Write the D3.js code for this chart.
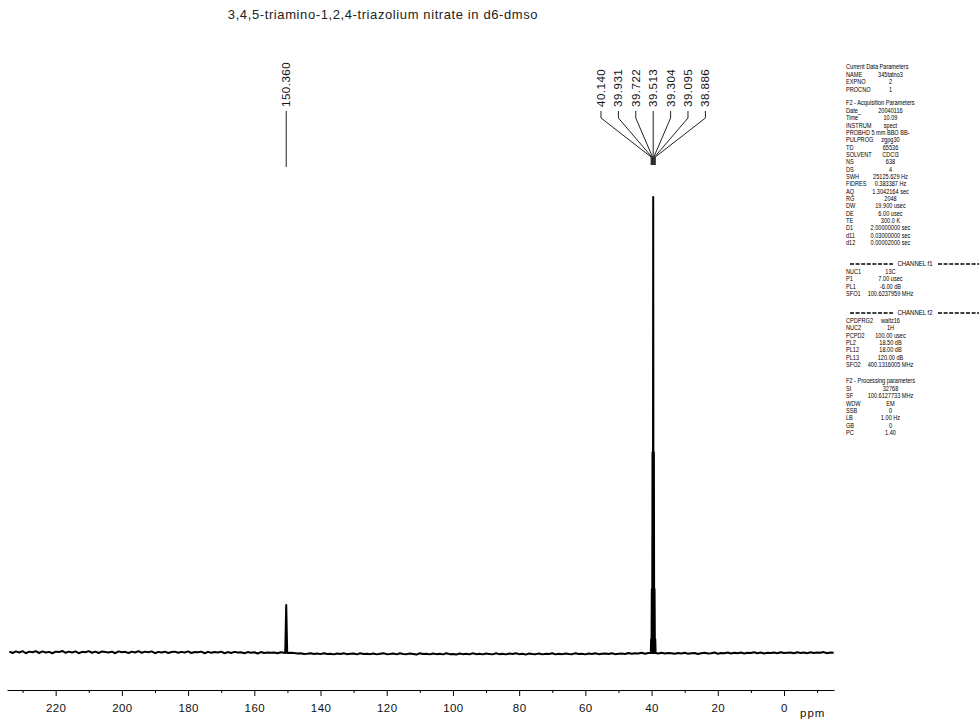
<!DOCTYPE html>
<html>
<head>
<meta charset="utf-8">
<script src="https://cdn.jsdelivr.net/npm/d3@7"></script>
<style>
  html, body { margin: 0; padding: 0; background: #fff; }
  svg { display: block; font-family: "Liberation Sans", Arial, sans-serif; }
</style>
</head>
<body>
<svg id="chart" width="979" height="723"></svg>
<script>
// ---------------- DATA ----------------
const titleText = "3,4,5-triamino-1,2,4-triazolium nitrate in d6-dmso";
const axisUnit = "ppm";
const majorTicks = [220, 200, 180, 160, 140, 120, 100, 80, 60, 40, 20, 0];
const minorTicks = [230, 210, 190, 170, 150, 130, 110, 90, 70, 50, 30, 10, -10];

const peakPpm    = [150.360, 40.140, 39.931, 39.722, 39.513, 39.304, 39.095, 38.886];
const peakHeight = [10.5, 3, 14, 44, 100, 44, 14, 3];
const peakLabels = ["150.360", "40.140", "39.931", "39.722", "39.513", "39.304", "39.095", "38.886"];
const labelGroups = [[0], [1, 2, 3, 4, 5, 6, 7]];

// baseline noise, one value per ppm from 234 down to -15
const baselineNoise = [
  .3,.0,.35,.1,.4,-.05,.3,.15,.4,.0,
  .35,.1,.25,-.05,.3,.2,.45,.05,.3,.1,
  .35,-.05,.25,.15,.4,.05,.3,.0,.35,.2,
  .1,.3,-.05,.35,.15,.25,.0,.3,.1,.4,
  .05,.3,.15,.35,-.05,.25,.1,.3,.0,.2,
  .3,.05,.25,.1,.35,.0,.2,.15,.3,-.05,
  .25,.05,.2,.1,.3,-.05,.2,.0,.25,.1,
  .15,-.05,.2,.05,.15,-.1,.2,0,.1,.05,
  .1,-.05,.15,.0,.1,.05,.0,-.1,-.05,-.2,
  -.15,-.05,-.2,-.1,-.25,-.05,-.2,-.15,-.3,-.1,
  -.2,-.05,-.25,-.15,-.1,-.3,-.05,-.2,-.15,-.25,
  -.1,-.3,-.15,-.05,-.25,-.2,-.1,-.3,-.05,-.2,
  -.25,-.1,-.2,-.35,-.05,-.2,-.15,-.3,-.1,-.25,
  -.15,-.3,-.05,-.25,-.2,-.35,-.1,-.25,-.15,-.3,
  -.05,-.25,-.15,-.3,-.1,-.2,-.3,-.05,-.25,-.15,
  -.3,-.1,-.2,-.05,-.25,-.15,-.35,-.1,-.2,-.25,
  -.1,-.3,-.15,-.2,-.05,-.3,-.15,-.25,-.1,-.2,
  -.25,-.05,-.2,-.15,-.3,-.1,-.2,-.05,-.25,-.15,
  -.1,-.2,-.05,-.25,-.15,-.1,-.2,0,-.15,-.05,
  -.1,.05,-.15,0,-.05,.0,-.1,.05,-.1,0,
  -.05,-.15,.0,-.1,.05,-.15,-.05,.0,-.2,-.05,
  .05,-.1,-.05,.1,-.15,.0,-.05,.1,-.1,.05,
  -.05,.1,-.1,.05,.0,.15,-.05,.1,-.1,.05,
  .0,.1,-.05,.15,.0,.05,.1,-.05,.15,.0,
  .1,-.05,.15,.0,.1,.05,.2,-.05,.1,.05
];

const currentParams = [["NAME", "345tatno3"], ["EXPNO", "2"], ["PROCNO", "1"]];
const acqParams = [
  ["Date_", "20040116"], ["Time", "10.09"], ["INSTRUM", "spect"], ["PROBHD", "5 mm BBO BB-"],
  ["PULPROG", "zgpg30"], ["TD", "65536"], ["SOLVENT", "CDCl3"], ["NS", "638"], ["DS", "4"],
  ["SWH", "25125.629 Hz"], ["FIDRES", "0.383387 Hz"], ["AQ", "1.3042164 sec"], ["RG", "2048"],
  ["DW", "19.900 usec"], ["DE", "6.00 usec"], ["TE", "300.0 K"], ["D1", "2.00000000 sec"],
  ["d11", "0.03000000 sec"], ["d12", "0.00002000 sec"]
];
const f1Params = [["NUC1", "13C"], ["P1", "7.00 usec"], ["PL1", "-6.00 dB"], ["SFO1", "100.6237959 MHz"]];
const f2Params = [["CPDPRG2", "waltz16"], ["NUC2", "1H"], ["PCPD2", "100.00 usec"], ["PL2", "18.50 dB"],
  ["PL12", "18.00 dB"], ["PL13", "120.00 dB"], ["SFO2", "400.1316005 MHz"]];
const procParams = [["SI", "32768"], ["SF", "100.6127733 MHz"], ["WDW", "EM"], ["SSB", "0"],
  ["LB", "1.00 Hz"], ["GB", "0"], ["PC", "1.40"]];

const sectionTitles = ["Current Data Parameters", "F2 - Acquisition Parameters", "CHANNEL f1", "CHANNEL f2", "F2 - Processing parameters"];

// ---------------- CHART ----------------
const svg = d3.select("#chart");
svg.append("rect").attr("width", 979).attr("height", 723).attr("fill", "#fff");

const x = d3.scaleLinear().domain([234.7, -15.1]).range([7, 834]);
const y = d3.scaleLinear().domain([0, 100]).range([653, 197]);

// title
svg.append("text")
  .attr("x", 383).attr("y", 19)
  .attr("text-anchor", "middle")
  .attr("font-size", 13)
  .attr("letter-spacing", 0.6)
  .attr("fill", "#222")
  .text(titleText);

// spectrum
const basePpm = d3.range(234, -16, -1);
const pts = [];
basePpm.forEach((p, i) => {
  if (i >= baselineNoise.length) return;
  const near = peakPpm.some(q => Math.abs(q - p) < 0.8);
  if (!near) pts.push({ ppm: p, v: baselineNoise[i] });
});
peakPpm.forEach((p, i) => {
  const w = i === 0 ? 0.3 : 0.1;
  pts.push({ ppm: p + w, v: 0 });
  pts.push({ ppm: p, v: peakHeight[i] });
  pts.push({ ppm: p - w, v: 0 });
});
pts.sort((a, b) => b.ppm - a.ppm);

const line = d3.line().x(d => x(d.ppm)).y(d => y(d.v));
svg.append("path")
  .datum(pts)
  .attr("d", line)
  .attr("fill", "none")
  .attr("stroke", "#000")
  .attr("stroke-width", 2)
  .attr("stroke-linejoin", "round");

// peak labels + leaders
const labelSpacing = 17.4;
labelGroups.forEach(group => {
  const n = group.length;
  const centerX = x(peakPpm[group[Math.floor(n / 2)]]);
  group.forEach((pi, k) => {
    const lx = n === 1 ? x(peakPpm[pi]) : centerX + (k - (n - 1) / 2) * labelSpacing;
    const px = x(peakPpm[pi]);
    svg.append("text")
      .attr("transform", `translate(${lx},107) rotate(-90)`)
      .attr("dy", "0.35em")
      .attr("text-anchor", "start")
      .attr("font-size", 11.5)
      .attr("letter-spacing", 0.5)
      .attr("fill", "#111")
      .text(peakLabels[pi]);
    const pathPts = n === 1
      ? [[lx, 111], [px, 167]]
      : [[lx, 111], [lx, 118], [px, 157], [px, 165]];
    svg.append("path")
      .attr("d", d3.line()(pathPts))
      .attr("fill", "none")
      .attr("stroke", "#222")
      .attr("stroke-width", 1);
  });
});

// axis
const axisG = svg.append("g").attr("transform", "translate(0,690)");
axisG.call(d3.axisBottom(x).tickValues(majorTicks).tickSize(6).tickSizeOuter(0).tickPadding(8).tickFormat(d3.format("d")));
axisG.select(".domain").attr("stroke", "#000");
axisG.selectAll(".tick line").attr("stroke", "#000");
axisG.selectAll(".tick text").attr("font-size", 11.5).attr("fill", "#111")
  .attr("letter-spacing", 0.4)
  .attr("font-family", "'Liberation Sans', Arial, sans-serif");
const minorG = svg.append("g").attr("transform", "translate(0,690)");
minorG.call(d3.axisBottom(x).tickValues(minorTicks).tickSize(3).tickSizeOuter(0).tickFormat(""));
minorG.select(".domain").remove();
minorG.selectAll(".tick line").attr("stroke", "#000");

svg.append("text")
  .attr("x", 800).attr("y", 717)
  .attr("font-size", 11.5)
  .attr("letter-spacing", 1)
  .attr("fill", "#111")
  .text(axisUnit);

// parameter block
const sx = 0.8, left = 846, valueCenter = 890.5, rowH = 7.35;
const pg = svg.append("g").attr("transform", `translate(${left},0) scale(${sx},1)`)
  .attr("font-size", 7).attr("fill", "#000");
function rows(list, startY) {
  list.forEach((r, i) => {
    const yy = startY + (i + 1) * rowH + 2.5;
    pg.append("text").attr("x", 0).attr("y", yy).text(r[0]);
    pg.append("text").attr("x", (valueCenter - left) / sx).attr("y", yy)
      .attr("text-anchor", "middle").text(r[1]);
  });
}
function header(t, yc) {
  pg.append("text").attr("x", 0).attr("y", yc + 2.5).text(t);
}
function channelHeader(t, yc) {
  pg.append("text").attr("x", (915 - left) / sx).attr("y", yc + 2.5)
    .attr("text-anchor", "middle").attr("font-size", 7.5).text(t);
  [[850, 893], [938, 979]].forEach(seg => {
    svg.append("line").attr("x1", seg[0]).attr("x2", seg[1]).attr("y1", yc).attr("y2", yc)
      .attr("stroke", "#000").attr("stroke-width", 1.4).attr("stroke-dasharray", "4,1.6");
  });
}
header(sectionTitles[0], 67); rows(currentParams, 67);
header(sectionTitles[1], 103); rows(acqParams, 103);
channelHeader(sectionTitles[2], 264); rows(f1Params, 264);
channelHeader(sectionTitles[3], 313); rows(f2Params, 313);
header(sectionTitles[4], 381); rows(procParams, 381);
</script>
</body>
</html>
